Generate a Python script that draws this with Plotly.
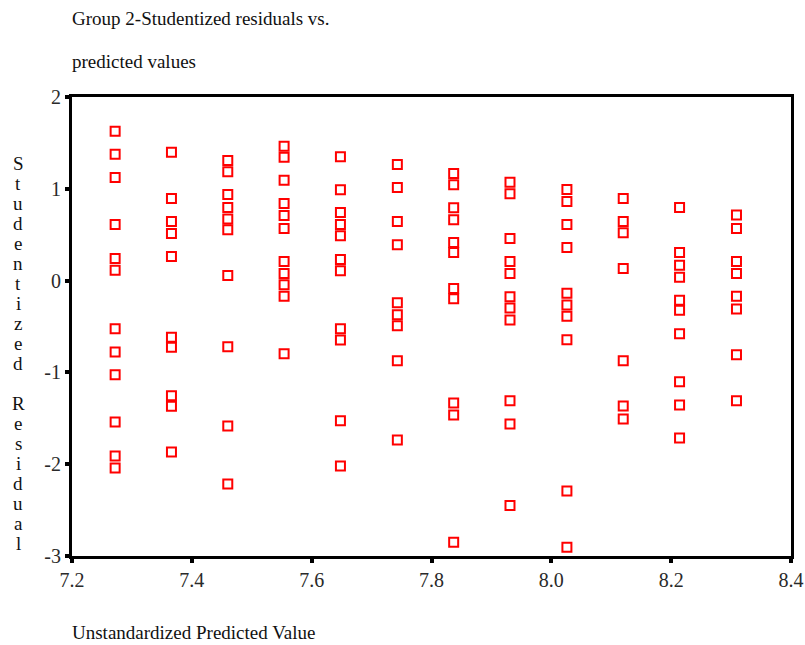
import plotly.graph_objects as go

# Predicted values (one column of residuals per predicted value)
predicted = [7.272, 7.366, 7.460, 7.554, 7.648, 7.743, 7.837, 7.931, 8.026, 8.120, 8.214, 8.309]

# Studentized residuals for each predicted value
residuals = [
    [1.627, 1.376, 1.124, 0.611, 0.240, 0.114, -0.524, -0.779, -1.026, -1.539, -1.910, -2.041],
    [1.397, 0.895, 0.644, 0.513, 0.262, -0.618, -0.727, -1.255, -1.368, -1.867],
    [1.307, 1.187, 0.939, 0.797, 0.670, 0.553, 0.055, -0.720, -1.583, -2.216],
    [1.463, 1.343, 1.092, 0.841, 0.710, 0.568, 0.207, 0.076, -0.044, -0.170, -0.797],
    [1.350, 0.990, 0.742, 0.611, 0.488, 0.229, 0.106, -0.524, -0.647, -1.528, -2.020],
    [1.264, 1.015, 0.644, 0.390, -0.240, -0.371, -0.491, -0.873, -1.736],
    [1.168, 1.045, 0.794, 0.663, 0.415, 0.306, -0.087, -0.197, -1.332, -1.463, -2.849],
    [1.070, 0.947, 0.459, 0.207, 0.076, -0.175, -0.298, -0.429, -1.310, -1.561, -2.449],
    [0.993, 0.862, 0.611, 0.360, -0.138, -0.265, -0.389, -0.644, -2.293, -2.904],
    [0.895, 0.644, 0.521, 0.131, -0.873, -1.365, -1.507],
    [0.797, 0.306, 0.168, 0.037, -0.214, -0.323, -0.579, -1.103, -1.354, -1.714],
    [0.714, 0.568, 0.207, 0.076, -0.170, -0.309, -0.808, -1.310],
]

x_ticks = [7.2, 7.4, 7.6, 7.8, 8.0, 8.2, 8.4]
y_ticks = [-3, -2, -1, 0, 1, 2]

title_lines = ["Group 2-Studentized residuals vs.", "predicted values"]
x_title = "Unstandardized Predicted Value"
y_title = "Studentized Residual"

xs, ys = [], []
for p, col in zip(predicted, residuals):
    for r in col:
        xs.append(p)
        ys.append(r)

serif = "Liberation Serif"
txt_color = "#111111"

# Plot-area geometry in pixels (used to place the free text)
W, H = 805, 645
ML, MR, MT, MB = 72, 14, 97, 89
PW, PH = W - ML - MR, H - MT - MB


def px_to_paper(px, py):
    return (px - ML) / PW, (H - MB - py) / PH


fig = go.Figure()
fig.add_trace(go.Scatter(
    x=xs, y=ys, mode="markers",
    marker=dict(symbol="square-open", size=9, color="#ff0000",
                line=dict(color="#ff0000", width=2)),
    showlegend=False, hoverinfo="x+y",
))

axis_common = dict(
    showgrid=False, zeroline=False, showline=True, linecolor="black",
    linewidth=3, mirror=True, ticks="outside", ticklen=4, tickwidth=4,
    tickcolor="black", automargin=False,
    tickfont=dict(family=serif, size=20, color="#2a2a2a"),
)

fig.update_layout(
    width=W, height=H,
    margin=dict(l=ML, r=MR, t=MT, b=MB),
    paper_bgcolor="white", plot_bgcolor="white",
    font=dict(family=serif, size=19, color=txt_color),
    xaxis=dict(range=[7.2, 8.4], tickvals=x_ticks,
               ticktext=[f"{v:.1f}" for v in x_ticks], **axis_common),
    yaxis=dict(range=[-3, 2], tickvals=y_ticks,
               ticktext=[str(v) for v in y_ticks], **axis_common),
)

# Titles drawn as text annotations
for text, py in [(title_lines[0], 18), (title_lines[1], 62), (x_title, 632)]:
    ax, ay = px_to_paper(70, py)
    fig.add_annotation(text=text, xref="paper", yref="paper", x=ax, y=ay,
                       xanchor="left", yanchor="middle", showarrow=False,
                       font=dict(family=serif, size=19, color=txt_color))

# Vertical axis title stacked one letter per line
for i, ch in enumerate(y_title):
    if ch == " ":
        continue
    ax, ay = px_to_paper(18, 163 + 20 * i)
    fig.add_annotation(text=ch, xref="paper", yref="paper", x=ax, y=ay,
                       xanchor="center", yanchor="middle", showarrow=False,
                       font=dict(family=serif, size=19, color=txt_color))

fig.write_html("out.html")
